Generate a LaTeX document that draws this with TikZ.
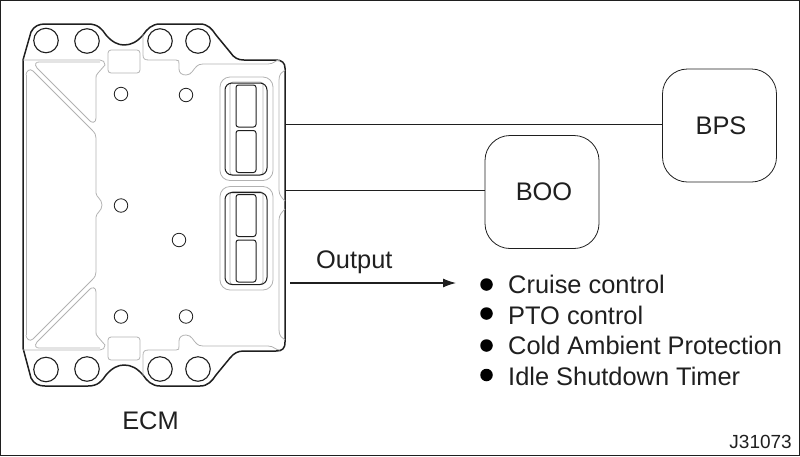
\documentclass[tikz,border=0pt]{standalone}
\usepackage{fontspec}
\setmainfont{Liberation Sans}
\usetikzlibrary{calc,arrows.meta}
\definecolor{inkblack}{gray}{0.12}
\definecolor{panelgrey}{gray}{0.7}
\def\drawoutline{\draw[color=inkblack, line width=1.5pt, line join=round]}
\def\drawpanel{\draw[color=panelgrey, line width=0.8pt]}
\def\drawslot{\draw[color=inkblack, line width=1pt, rounded corners=2.5pt]}
\def\bignode{\node[circle,draw=inkblack,line width=1.1pt,minimum size=24.5pt,inner sep=0pt]}
\def\holenode{\node[circle,draw=inkblack,line width=0.8pt,minimum size=13.5pt,inner sep=0pt]}
\def\dotnode{\node[circle,fill=black,minimum size=12.5pt,inner sep=0pt]}
\tikzset{
  label24/.style={text=inkblack,font=\fontsize{25.4}{30}\selectfont,inner sep=0pt},
  listitem/.style={label24,anchor=west},
  boxnode/.style={label24,draw=inkblack,line width=0.8pt,rounded corners=25pt,minimum width=114pt,minimum height=113pt},
  link/.style={color=inkblack,line width=0.8pt},
}
\begin{document}
\begin{tikzpicture}[x=1pt,y=-1pt]
\useasboundingbox (0,0) rectangle (800,456);
\draw[color=inkblack, line width=1.2pt] (0.6,0.6) rectangle (799.4,455.4);

% ECM housing outline
\drawoutline (23,60) -- (31,32) .. controls (34,26) and (39,24) .. (45,24) -- (88,24)
  .. controls (98,24) and (102,29) .. (106,35) .. controls (112,42) and (118,45) .. (124,45)
  .. controls (131,45) and (137,42) .. (143,35) .. controls (147,29) and (152,24) .. (160,24) -- (200,24)
  .. controls (208,24) and (212,29) .. (216,35) -- (230,52) .. controls (234,58) and (238,60) .. (244,60) -- (276,60)
  .. controls (282,60) and (285,63) .. (285,68) -- (285,342)
  .. controls (285,349) and (282,351) .. (276,351) -- (244,351)
  .. controls (238,351) and (234,353) .. (230,358) -- (216,375)
  .. controls (212,381) and (208,386) .. (200,386) -- (160,386)
  .. controls (152,386) and (147,381) .. (143,375) .. controls (137,368) and (131,365) .. (124,365)
  .. controls (118,365) and (112,368) .. (106,375) .. controls (102,381) and (98,386) .. (88,386) -- (45,386)
  .. controls (39,386) and (34,384) .. (31,378) -- (23,348) -- cycle;

% Panel lines, the lower half is the upper half turned over
\foreach \flip/\off in {1/0,-1/410} {
\begin{scope}[shift={(0,\off)},yscale=\flip]
\drawpanel (23,60) -- (100,60) .. controls (103,60) and (105,62) .. (105,65) -- (98,73)
  .. controls (96,75) and (96,76) .. (96,78) -- (96,118) .. controls (96,123) and (92,123) .. (90,121)
  -- (37,68) .. controls (34,64) and (36,62) .. (39,62) -- (100,62);
\drawpanel (26,75) .. controls (26,71) and (30,68) .. (33,71) -- (92,130)
  .. controls (95,133) and (96,135) .. (96,138) -- (96,193) .. controls (96,197) and (102,199) .. (102,205);
\drawpanel (26,75) -- (26,205);
\drawpanel (143,34) -- (143,55) .. controls (143,59) and (145,60) .. (149,60) -- (176,60)
  .. controls (179,60) and (179,61) .. (179,64) -- (179,69) .. controls (179,73) and (182,75) .. (186,75)
  .. controls (192,75) and (193,69) .. (197,66) .. controls (198,65) and (200,64) .. (203,64) -- (268,64)
  .. controls (274,64) and (275,60) .. (280,60);
\drawpanel (285,70) .. controls (282,72) and (279,74) .. (279,80) -- (279,190) .. controls (279,195) and (282,198) .. (285,201);
\end{scope}
}
\drawpanel[rounded corners=3pt] (108,50) rectangle (140,73);
\drawpanel[rounded corners=3pt] (108,337) rectangle (140,360);

% Mounting holes
\bignode (hole_a) at (46,40.5) {};
\bignode (hole_b) at (87,41) {};
\bignode (hole_c) at (160,41) {};
\bignode (hole_d) at (198,41) {};
\bignode (hole_e) at (46,369.5) {};
\bignode (hole_f) at (87,369) {};
\bignode (hole_g) at (160,369) {};
\bignode (hole_h) at (198,369) {};

\holenode (pin_a) at (121,94) {};
\holenode (pin_b) at (186,95) {};
\holenode (pin_c) at (121,205.5) {};
\holenode (pin_d) at (179,240) {};
\holenode (pin_e) at (121,316.5) {};
\holenode (pin_f) at (186,316.5) {};

% Connectors
\foreach \top in {77,186.5} {
  \coordinate (o) at (220,\top);
  \drawpanel[rounded corners=10pt] (o) rectangle ($ (o) + (53,103.5) $);
  \drawpanel[rounded corners=3pt] ($ (o) + (10,5) $) rectangle ($ (o) + (43,98) $);
  \drawslot[rounded corners=7pt] ($ (o) + (5,6) $) rectangle ($ (o) + (47,98) $);
  \drawslot ($ (o) + (16,8) $) rectangle ($ (o) + (36,50) $);
  \drawslot ($ (o) + (16,53.5) $) rectangle ($ (o) + (36,95.5) $);
}

% Signal boxes
\node[boxnode] (bps) at (719.5,125.5) {\hspace*{3pt}BPS};
\node[boxnode] (boo) at (542,192) {\hspace*{4pt}BOO};
\coordinate (ecm_bps) at (285,124);
\coordinate (ecm_boo) at (285,190);
\draw[link] (ecm_bps) -- (ecm_bps -| bps.west);
\draw[link] (ecm_boo) -- (ecm_boo -| boo.west);

% Output arrow and list
\coordinate (out_start) at (290,283);
\coordinate (out_end) at (456,283);
\draw[color=inkblack,line width=1.1pt,-{Latex[length=13pt,width=9pt]}] (out_start) -- (out_end);
\node[label24,anchor=base west] (output) at (316,268) {Output};

\dotnode (dot_a) at (486.5,284.5) {};
\dotnode (dot_b) at (486.5,313.5) {};
\dotnode (dot_c) at (486.5,345.5) {};
\dotnode (dot_d) at (486.5,375) {};
\node[listitem] (cruise) at (508,284.5) {Cruise control};
\node[listitem] (pto) at (508,315) {PTO control};
\node[listitem] (cold) at (508,345.5) {Cold Ambient Protection};
\node[listitem] (idle) at (508,376) {Idle Shutdown Timer};

\node[label24] (ecm) at (150.5,421) {ECM};
\node[text=inkblack,font=\fontsize{19}{22}\selectfont,inner sep=0pt,anchor=base east] (partno) at (792,448) {J31073};
\end{tikzpicture}
\end{document}
